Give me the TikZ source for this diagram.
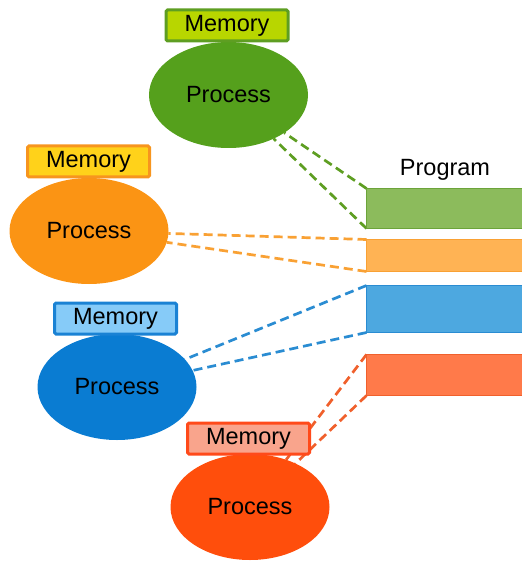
\documentclass[tikz,border=0pt]{standalone}
\usepackage{fontspec}
\setmainfont{Liberation Sans}
\usetikzlibrary{shapes.geometric,backgrounds}
\definecolor{gEll}{HTML}{55A01C}
\definecolor{gMemF}{HTML}{B8D600}
\definecolor{gMemD}{HTML}{5E9E22}
\definecolor{gBar}{HTML}{8CBB5C}
\definecolor{gBarD}{HTML}{6CA43A}
\definecolor{oEll}{HTML}{FB9414}
\definecolor{oMemF}{HTML}{FFD21A}
\definecolor{oMemD}{HTML}{F7951E}
\definecolor{oBar}{HTML}{FFB354}
\definecolor{oBarD}{HTML}{F9A134}
\definecolor{bEll}{HTML}{0A7CD2}
\definecolor{bMemF}{HTML}{86CBF8}
\definecolor{bMemD}{HTML}{1A82D4}
\definecolor{bBar}{HTML}{4DA8E0}
\definecolor{bBarD}{HTML}{2A8CD2}
\definecolor{rEll}{HTML}{FF4E0C}
\definecolor{rMemF}{HTML}{F9A48C}
\definecolor{rMemD}{HTML}{FF4A1A}
\definecolor{rBar}{HTML}{FF7A4A}
\definecolor{rBarD}{HTML}{F0602C}
\begin{document}
\begin{tikzpicture}[x=1pt,y=-1pt,
  every node/.style={font=\fontsize{23.5}{28}\selectfont, text=black},
  proc/.style={ellipse, fill=#1, minimum width=159pt, minimum height=106pt, inner sep=0pt, outer sep=0pt},
  mem/.style={draw=#1, line width=3pt, rounded corners=1.5pt, minimum width=122pt, minimum height=31pt, inner sep=0pt, outer sep=0pt},
  bar/.style={anchor=north west, draw=#1, line width=1.5pt, minimum width=170pt, inner sep=0pt, outer sep=0pt},
  link/.style={draw=#1, dash pattern=on 9pt off 5pt, line width=2.7pt}]
\useasboundingbox (0,0) rectangle (521,561);
% processes
\node[proc=gEll] (gp) at (228.5,95) {Process};
\node[proc=oEll] (op) at (89,231) {Process};
\node[proc=bEll] (bp) at (117,387) {Process};
\node[proc=rEll] (rp) at (250,507) {Process};
% memories
\node[mem=gMemD, fill=gMemF] (gm) at (227,25.5) {Memory};
\node[mem=oMemD, fill=oMemF] (om) at (88.5,161.5) {Memory};
\node[mem=bMemD, fill=bMemF] (bm) at (115.5,318.5) {Memory};
\node[mem=rMemD, fill=rMemF] (rm) at (248.5,438.5) {Memory};
% program bars
\node[bar=gBarD, fill=gBar, minimum height=40pt] (gb) at (366.5,188.5) {};
\node[bar=oBarD, fill=oBar, minimum height=32pt] (ob) at (366.5,239.5) {};
\node[bar=bBarD, fill=bBar, minimum height=47pt] (bb) at (366.5,285.5) {};
\node[bar=rBarD, fill=rBar, minimum height=41pt] (rb) at (366.5,354.5) {};
\node (prog) at (445,170) {Program};
% links
\begin{scope}[on background layer]
\draw[link=gMemD] (gb.north west) -- (gp);
\draw[link=gMemD] (gb.south west) -- (gp);
\draw[link=oBarD] (ob.north west) -- (op);
\draw[link=oBarD] (ob.south west) -- (op);
\draw[link=bBarD] (bb.north west) -- (bp);
\draw[link=bBarD] (bb.south west) -- (bp);
\draw[link=rBarD] (rb.north west) -- (rp);
\draw[link=rBarD] (rb.south west) -- (rp);
\end{scope}
\end{tikzpicture}
\end{document}
